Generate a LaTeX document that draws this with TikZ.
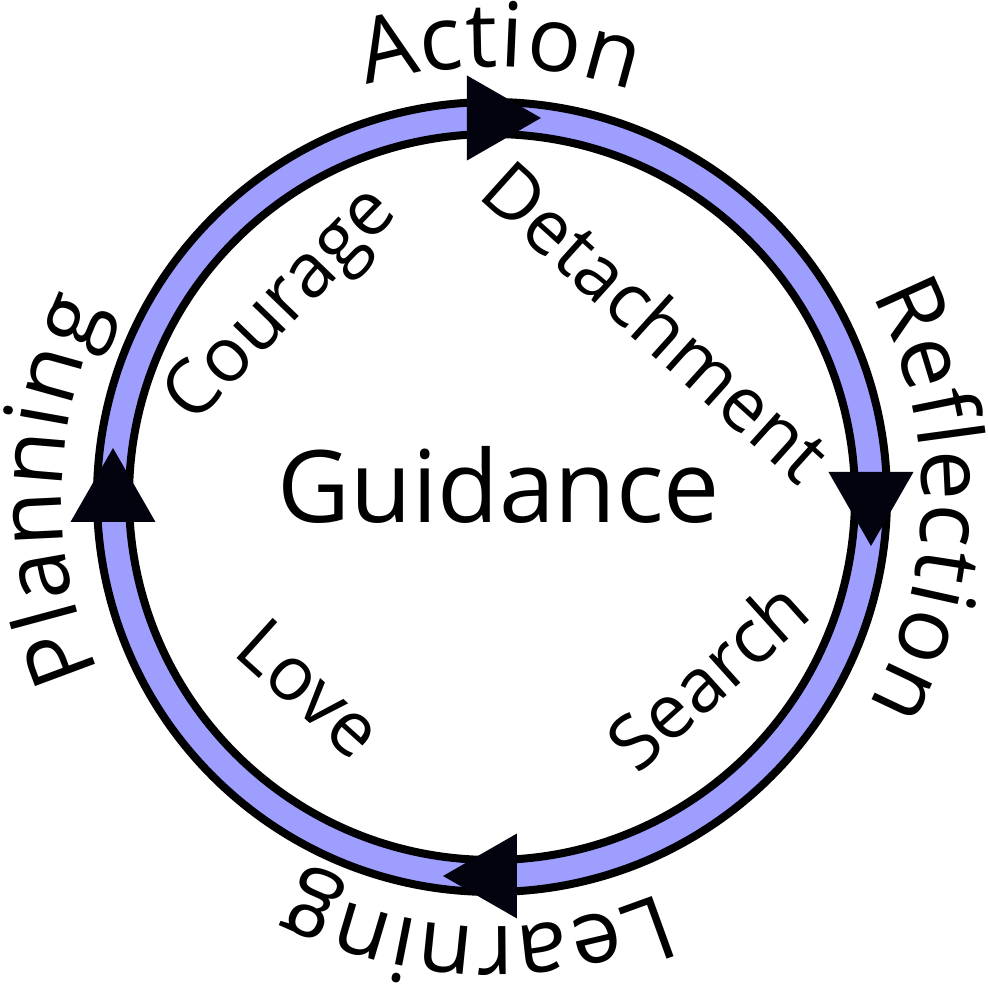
\documentclass[tikz,border=0pt]{standalone}
\usepackage{fontspec}
\setmainfont{Open Sans}
\usetikzlibrary{decorations.text}

\definecolor{ringblue}{RGB}{158,158,255}
\definecolor{arrowink}{RGB}{3,3,15}
\newcommand{\outerfont}{\fontsize{51}{60}\selectfont}
\newcommand{\innerfont}{\fontsize{43}{52}\selectfont}
\newcommand{\centerfont}{\fontsize{57}{68}\selectfont}

\tikzset{
  ring/.style={line width=0.16cm, draw=black},
  innerlabel/.style={font=\innerfont, inner sep=0pt},
  steptext/.style={decorate, decoration={text along path, text align={fit to path}}}
}

\begin{document}
\begin{tikzpicture}
\useasboundingbox (-9.84,-9.76) rectangle (9.92,9.94);

% Anneau
\fill[ringblue, even odd rule]
(0,0) circle (7.9)
(0,0) circle (7.26);

\draw[ring] (0,0) circle (7.9);
\draw[ring] (0,0) circle (7.26);

% Fleches
\foreach \a in {0,-90,-180,-270}
  \fill[arrowink, rotate=\a]
  (-0.5,8.43) -- (0.98,7.58) -- (-0.5,6.73) -- cycle;

% Etapes du cycle
\path[steptext, decoration={text={|\outerfont|Action}}]
(107:8.6) arc[start angle=107, end angle=71, radius=8.6];

\path[steptext, decoration={text={|\outerfont|Reflection}}]
(28:8.6) arc[start angle=28, end angle=-29, radius=8.6];

\path[steptext, decoration={text={|\outerfont|Learning}}]
(-67:8.6) arc[start angle=-67, end angle=-117, radius=8.6];

\path[steptext, decoration={text={|\outerfont|Planning}}]
(204:8.6) arc[start angle=204, end angle=154, radius=8.6];

% Centre
\node[font=\centerfont, inner sep=0pt] (guidance) at (0.14,0.24) {Guidance};

% Qualites
\node[innerlabel, rotate=46] (courage) at (-4.18,3.8) {Courage};
\node[innerlabel, rotate=-42] (detachment) at (3.3,3.52) {Detachment};
\node[innerlabel, rotate=42] (search) at (4.3,-3.56) {Search};
\node[innerlabel, rotate=-42] (love) at (-3.64,-3.82) {Love};

\end{tikzpicture}
\end{document}
